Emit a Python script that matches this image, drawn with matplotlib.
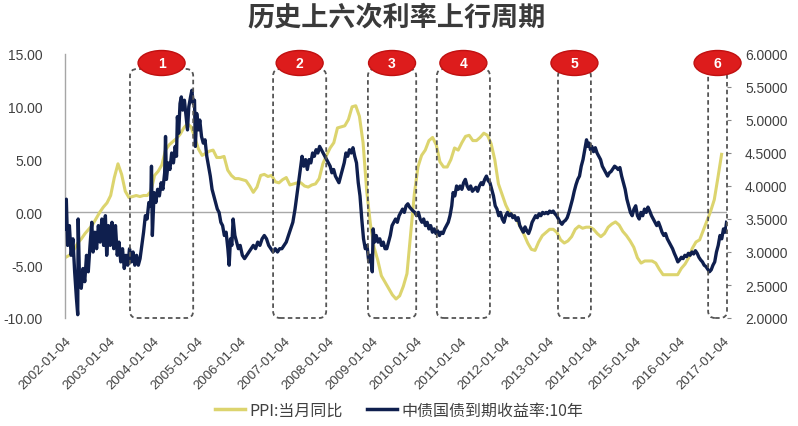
import matplotlib
matplotlib.use("Agg")
import matplotlib.pyplot as plt
from matplotlib.patches import Ellipse, FancyBboxPatch
from matplotlib.lines import Line2D
from matplotlib.ticker import FormatStrFormatter, MultipleLocator

# ---------------- data ----------------
title = "历史上六次利率上行周期"
ppi_label = "PPI:当月同比"
yield_label = "中债国债到期收益率:10年"

ppi_years = list(range(2002, 2017))
ppi_monthly = [
    [-4.2, -4.0, -3.5, -2.9, -2.5, -2.0, -1.6, -1.2, -0.6, 0.0, 0.5, 0.9],   # 2002
    [1.6, 3.3, 4.6, 3.6, 2.0, 1.4, 1.5, 1.6, 1.5, 1.6, 1.6, 2.0],            # 2003
    [3.5, 3.9, 4.5, 5.9, 6.4, 6.7, 7.0, 7.4, 8.0, 8.4, 8.1, 7.1],            # 2004
    [6.0, 5.4, 5.6, 5.8, 5.9, 5.2, 5.2, 5.3, 4.0, 3.5, 3.2, 3.2],            # 2005
    [3.1, 3.0, 2.5, 1.9, 2.4, 3.5, 3.6, 3.4, 3.5, 2.9, 2.8, 3.1],            # 2006
    [3.3, 2.6, 2.7, 2.8, 2.8, 2.5, 2.4, 2.6, 2.7, 3.2, 4.6, 5.4],            # 2007
    [6.1, 6.6, 8.0, 8.1, 8.2, 8.8, 10.0, 10.1, 9.1, 6.6, 2.0, -1.1],         # 2008
    [-3.3, -4.5, -6.0, -6.6, -7.2, -7.8, -8.2, -7.9, -7.0, -5.8, -2.1, 1.7], # 2009
    [4.3, 5.4, 5.9, 6.8, 7.1, 6.4, 4.8, 4.3, 4.3, 5.0, 6.1, 5.9],            # 2010
    [6.6, 7.2, 7.3, 6.8, 6.8, 7.1, 7.5, 7.3, 6.5, 5.0, 2.7, 1.7],            # 2011
    [0.7, 0.0, -0.3, -0.7, -1.4, -2.1, -2.9, -3.5, -3.6, -2.8, -2.2, -1.9],  # 2012
    [-1.6, -1.6, -1.9, -2.6, -2.9, -2.7, -2.3, -1.6, -1.3, -1.5, -1.4, -1.4],# 2013
    [-1.6, -2.0, -2.3, -2.0, -1.4, -1.1, -0.9, -1.2, -1.8, -2.2, -2.7, -3.3],# 2014
    [-4.3, -4.8, -4.6, -4.6, -4.6, -4.8, -5.4, -5.9, -5.9, -5.9, -5.9, -5.9],# 2015
    [-5.3, -4.9, -4.3, -3.4, -2.8, -2.6, -1.7, -0.8, 0.1, 1.2, 3.3, 5.5],    # 2016
]

# 10-year government bond yield (decimal year, %)
yield_x = [
    2002.00, 2002.03, 2002.06, 2002.10, 2002.14, 2002.18, 2002.22, 2002.26, 2002.29, 2002.30,
    2002.33, 2002.37, 2002.41, 2002.45, 2002.49, 2002.53, 2002.57, 2002.61, 2002.64, 2002.68,
    2002.72, 2002.76, 2002.80, 2002.84, 2002.88, 2002.92, 2002.95, 2002.99, 2003.03, 2003.07,
    2003.11, 2003.15, 2003.19, 2003.23, 2003.27, 2003.31, 2003.35, 2003.39, 2003.43, 2003.47,
    2003.51, 2003.55, 2003.59, 2003.63, 2003.67, 2003.71, 2003.75, 2003.79, 2003.83, 2003.87,
    2003.91, 2003.95, 2003.97, 2003.99, 2004.03, 2004.07, 2004.11, 2004.15, 2004.19, 2004.23,
    2004.27, 2004.29, 2004.31, 2004.35, 2004.39, 2004.43, 2004.47, 2004.51, 2004.54, 2004.56,
    2004.59, 2004.62, 2004.65, 2004.68, 2004.72, 2004.76, 2004.79, 2004.82, 2004.86, 2004.89,
    2004.92, 2004.95, 2004.97, 2005.00, 2005.04, 2005.07, 2005.11, 2005.15, 2005.19, 2005.23,
    2005.27, 2005.31, 2005.35, 2005.39, 2005.43, 2005.47, 2005.51, 2005.55, 2005.59, 2005.63,
    2005.67, 2005.71, 2005.74, 2005.77, 2005.80, 2005.83, 2005.87, 2005.91, 2005.95, 2005.99,
    2006.04, 2006.09, 2006.14, 2006.19, 2006.24, 2006.29, 2006.34, 2006.39, 2006.44, 2006.49,
    2006.54, 2006.59, 2006.64, 2006.69, 2006.74, 2006.79, 2006.84, 2006.89, 2006.94, 2006.99,
    2007.04, 2007.09, 2007.14, 2007.19, 2007.24, 2007.28, 2007.32, 2007.36, 2007.40, 2007.44,
    2007.48, 2007.52, 2007.56, 2007.60, 2007.64, 2007.68, 2007.72, 2007.76, 2007.80, 2007.84,
    2007.88, 2007.92, 2007.96, 2008.00, 2008.04, 2008.08, 2008.12, 2008.16, 2008.20, 2008.24,
    2008.28, 2008.32, 2008.36, 2008.40, 2008.44, 2008.48, 2008.52, 2008.56, 2008.60, 2008.64,
    2008.68, 2008.72, 2008.76, 2008.80, 2008.84, 2008.88, 2008.92, 2008.96, 2009.00, 2009.02,
    2009.05, 2009.09, 2009.13, 2009.17, 2009.21, 2009.25, 2009.29, 2009.33, 2009.37, 2009.41,
    2009.45, 2009.49, 2009.53, 2009.57, 2009.61, 2009.65, 2009.69, 2009.73, 2009.77, 2009.81,
    2009.85, 2009.89, 2009.93, 2009.97, 2010.01, 2010.05, 2010.09, 2010.13, 2010.17, 2010.21,
    2010.25, 2010.29, 2010.33, 2010.37, 2010.41, 2010.45, 2010.49, 2010.53, 2010.57, 2010.61,
    2010.65, 2010.69, 2010.73, 2010.77, 2010.81, 2010.84, 2010.88, 2010.92, 2010.96, 2011.00,
    2011.04, 2011.08, 2011.12, 2011.16, 2011.20, 2011.24, 2011.28, 2011.32, 2011.36, 2011.40,
    2011.44, 2011.48, 2011.52, 2011.56, 2011.60, 2011.64, 2011.68, 2011.72, 2011.76, 2011.80,
    2011.84, 2011.88, 2011.92, 2011.96, 2012.00, 2012.04, 2012.08, 2012.12, 2012.16, 2012.20,
    2012.24, 2012.28, 2012.32, 2012.36, 2012.40, 2012.44, 2012.48, 2012.52, 2012.56, 2012.60,
    2012.64, 2012.68, 2012.72, 2012.76, 2012.80, 2012.84, 2012.88, 2012.92, 2012.96, 2013.00,
    2013.04, 2013.08, 2013.12, 2013.16, 2013.20, 2013.24, 2013.28, 2013.32, 2013.36, 2013.40,
    2013.44, 2013.48, 2013.52, 2013.56, 2013.60, 2013.64, 2013.68, 2013.72, 2013.76, 2013.80,
    2013.84, 2013.88, 2013.91, 2013.94, 2013.97, 2014.00, 2014.04, 2014.08, 2014.12, 2014.16,
    2014.20, 2014.24, 2014.28, 2014.32, 2014.36, 2014.40, 2014.44, 2014.48, 2014.52, 2014.56,
    2014.60, 2014.64, 2014.68, 2014.72, 2014.76, 2014.80, 2014.84, 2014.88, 2014.92, 2014.96,
    2015.00, 2015.04, 2015.08, 2015.12, 2015.16, 2015.20, 2015.24, 2015.28, 2015.32, 2015.36,
    2015.40, 2015.44, 2015.48, 2015.52, 2015.56, 2015.60, 2015.64, 2015.68, 2015.72, 2015.76,
    2015.80, 2015.84, 2015.88, 2015.92, 2015.96, 2016.00, 2016.04, 2016.08, 2016.12, 2016.16,
    2016.20, 2016.24, 2016.28, 2016.32, 2016.36, 2016.40, 2016.44, 2016.48, 2016.52, 2016.56,
    2016.60, 2016.64, 2016.68, 2016.72, 2016.76, 2016.80, 2016.84, 2016.88, 2016.92, 2016.96,
    2017.00, 2017.04, 2017.07,
]
yield_y = [
    3.35, 3.80, 3.10, 3.40, 2.95, 3.20, 2.70, 2.30, 2.05, 3.50,
    2.60, 2.45, 2.75, 2.55, 2.95, 2.70, 3.10, 3.45, 3.00, 3.30,
    3.05, 3.40, 3.15, 3.50, 3.10, 3.55, 2.95, 3.40, 3.10, 3.45,
    3.05, 3.40, 2.95, 3.15, 2.85, 3.05, 2.75, 2.95, 2.80, 3.05,
    2.85, 3.00, 2.80, 2.95, 2.80, 2.90, 3.10, 3.30, 3.55, 3.50,
    3.75, 3.70, 4.30, 3.25, 3.90, 3.75, 3.95, 3.85, 4.05, 3.95,
    4.20, 4.75, 4.10, 4.35, 4.25, 4.50, 4.35, 4.60, 4.45, 5.05,
    4.80, 5.25, 5.35, 5.15, 5.30, 5.05, 4.85, 5.20, 5.35, 5.45,
    5.25, 5.30, 4.60, 5.10, 4.85, 5.00, 4.75, 4.65, 4.70, 4.45,
    4.30, 4.15, 3.95, 3.85, 3.75, 3.65, 3.60, 3.45, 3.40, 3.25,
    3.30, 3.05, 2.80, 3.20, 3.10, 3.50, 3.25, 3.15, 3.05, 3.10,
    2.95, 2.90, 2.95, 3.00, 3.05, 3.10, 3.05, 3.15, 3.10, 3.20,
    3.25, 3.20, 3.10, 3.05, 3.00, 3.05, 3.00, 3.05, 3.05, 3.10,
    3.15, 3.25, 3.35, 3.45, 3.65, 3.85, 4.05, 4.25, 4.45, 4.30,
    4.40, 4.25, 4.40, 4.35, 4.50, 4.45, 4.55, 4.50, 4.60, 4.55,
    4.50, 4.45, 4.40, 4.35, 4.30, 4.20, 4.25, 4.15, 4.10, 4.05,
    4.15, 4.25, 4.35, 4.50, 4.45, 4.55, 4.50, 4.58, 4.45, 4.35,
    4.05, 3.85, 3.50, 3.20, 3.05, 3.10, 2.85, 2.95, 2.70, 3.35,
    3.15, 3.25, 3.15, 3.20, 3.10, 3.15, 3.05, 3.05, 3.15, 3.25,
    3.40, 3.45, 3.50, 3.45, 3.55, 3.60, 3.65, 3.60, 3.70, 3.73,
    3.68, 3.65, 3.62, 3.60, 3.55, 3.60, 3.50, 3.45, 3.50, 3.40,
    3.45, 3.35, 3.40, 3.30, 3.35, 3.28, 3.32, 3.25, 3.30, 3.28,
    3.35, 3.40, 3.45, 3.55, 3.70, 3.90, 3.85, 4.00, 3.95, 4.00,
    3.95, 4.05, 4.10, 4.00, 3.95, 4.00, 3.92, 3.95, 3.98, 3.92,
    4.00, 4.05, 4.02, 4.10, 4.15, 4.08, 4.05, 3.95, 3.85, 3.70,
    3.65, 3.55, 3.60, 3.50, 3.45, 3.55, 3.60, 3.55, 3.58, 3.52,
    3.55, 3.48, 3.52, 3.40, 3.35, 3.30, 3.38, 3.32, 3.28, 3.35,
    3.45, 3.50, 3.55, 3.52, 3.58, 3.55, 3.60, 3.58, 3.60, 3.58,
    3.62, 3.60, 3.62, 3.58, 3.55, 3.50, 3.45, 3.42, 3.46, 3.48,
    3.52, 3.60, 3.70, 3.80, 3.92, 4.02, 4.10, 4.15, 4.30, 4.40,
    4.55, 4.70, 4.60, 4.65, 4.55, 4.60, 4.52, 4.58, 4.50, 4.45,
    4.40, 4.30, 4.25, 4.20, 4.15, 4.20, 4.22, 4.26, 4.30, 4.28,
    4.25, 4.28, 4.15, 4.05, 3.95, 3.80, 3.70, 3.60, 3.55, 3.65,
    3.70, 3.55, 3.50, 3.60, 3.55, 3.65, 3.60, 3.68, 3.62, 3.55,
    3.50, 3.45, 3.40, 3.45, 3.38, 3.30, 3.25, 3.28, 3.20, 3.15,
    3.10, 3.05, 2.98, 2.92, 2.85, 2.88, 2.92, 2.90, 2.95, 2.93,
    2.98, 2.95, 3.00, 2.97, 3.02, 2.98, 2.92, 2.88, 2.85, 2.80,
    2.78, 2.74, 2.70, 2.73, 2.80, 2.85, 3.00, 3.10, 3.25, 3.20,
    3.35, 3.30, 3.45,
]

# rate up-cycles (start, end in decimal years)
cycle_labels = ["1", "2", "3", "4", "5", "6"]
cycle_start = [2003.48, 2006.74, 2008.90, 2010.47, 2013.23, 2016.65]
cycle_end = [2004.92, 2007.95, 2010.00, 2011.68, 2013.98, 2017.08]

tick_years = list(range(2002, 2018))
tick_labels = [f"{y}-01-04" for y in tick_years]

# ---------------- figure ----------------
W, H, DPI = 798, 427, 100
fig = plt.figure(figsize=(W / DPI, H / DPI), dpi=DPI)
fig.patch.set_facecolor("white")

L, R, T, B = 65, 727, 55, 319
ax = fig.add_axes([L / W, 1 - B / H, (R - L) / W, (B - T) / H])
ax2 = ax.twinx()

ppi_x = []
ppi_y = []
for yr, vals in zip(ppi_years, ppi_monthly):
    for m, v in enumerate(vals):
        ppi_x.append(yr + m / 12 + 0.04)
        ppi_y.append(v)

yellow = "#dcd46e"
navy = "#0f1f4e"

ax.plot(ppi_x, ppi_y, color=yellow, lw=2.2, zorder=2)
ax.axhline(0, color="#a8a8a8", lw=1.0, zorder=1)
ax2.plot(yield_x, yield_y, color=navy, lw=2.4, zorder=3)

ax.set_xlim(2002.0, 2017.08)
ax.set_ylim(-10, 15)
ax2.set_ylim(2, 6)
ax.yaxis.set_major_locator(MultipleLocator(5))
ax.yaxis.set_major_formatter(FormatStrFormatter("%.2f"))
ax2.yaxis.set_major_locator(MultipleLocator(0.5))
ax2.yaxis.set_major_formatter(FormatStrFormatter("%.4f"))

ax.set_xticks(tick_years)
ax.set_xticklabels(tick_labels, rotation=45, ha="right", rotation_mode="anchor",
                   fontsize=9.5, color="#404040", family="Liberation Sans")
ax.tick_params(axis="x", length=0, pad=12)
ax.tick_params(axis="y", length=0, pad=16, labelsize=10, labelcolor="#404040")
ax2.tick_params(axis="y", length=3, color="#888888", pad=10, labelsize=10, labelcolor="#404040")
for lab in ax.get_yticklabels() + ax2.get_yticklabels():
    lab.set_family("Liberation Sans")

for a in (ax, ax2):
    for s in ("top", "bottom", "right"):
        a.spines[s].set_visible(False)
ax2.spines["left"].set_visible(False)
ax.spines["left"].set_color("#a6a6a6")
ax.spines["left"].set_linewidth(1.0)
ax.patch.set_visible(False)

# ---- cycles: dashed rounded boxes + red ellipse labels (drawn in pixel space) ----
box_top_px, box_bot_px = 70, 319
ell_cy_px, ell_w, ell_h = 64, 47, 25
for lab, s, e in zip(cycle_labels, cycle_start, cycle_end):
    x0 = ax.transData.transform((s, 0))[0]
    x1 = ax.transData.transform((e, 0))[0]
    y0 = H - box_bot_px
    y1 = H - box_top_px
    box = FancyBboxPatch((x0, y0), x1 - x0, y1 - y0,
                         boxstyle="round,pad=0,rounding_size=7",
                         transform=None, fill=False, edgecolor="#555555",
                         lw=1.3, linestyle=(0, (2.5, 1.8)), zorder=5)
    fig.add_artist(box)
    cx = (x0 + x1) / 2
    cy = H - ell_cy_px
    ell = Ellipse((cx, cy), ell_w, ell_h, transform=None, facecolor="#dd1c1c",
                  edgecolor="#c01010", lw=1.0, zorder=6)
    fig.add_artist(ell)
    fig.text(cx / W, cy / H, lab, ha="center", va="center", color="white",
             fontsize=10, fontweight="bold", family="Liberation Sans", zorder=7)

# ---- title ----
fig.text(397 / W, 1 - 17 / H, title, ha="center", va="center", fontsize=19.5,
         fontweight="bold", color="#3a3a3a", family=["Noto Sans CJK SC", "DejaVu Sans"])

# ---- legend ----
handles = [Line2D([], [], color=yellow, lw=2.5), Line2D([], [], color=navy, lw=2.5)]
leg = fig.legend(handles, [ppi_label, yield_label], loc="center",
                 bbox_to_anchor=(399 / W, 1 - 411 / H), ncol=2, frameon=False,
                 handlelength=1.9, handletextpad=0.25, columnspacing=1.5,
                 prop={"family": ["Noto Sans CJK SC", "DejaVu Sans"], "size": 11.5})
for t in leg.get_texts():
    t.set_color("#404040")

fig.savefig("out.png", dpi=DPI, facecolor="white")
